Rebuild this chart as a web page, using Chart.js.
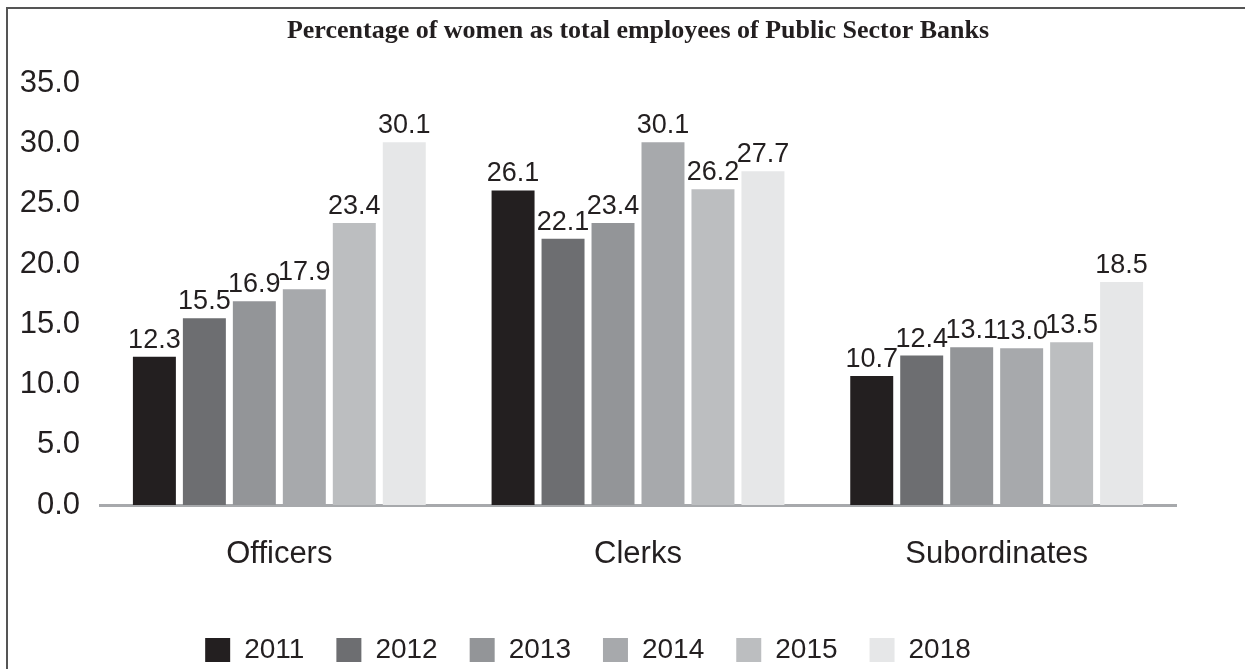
<!DOCTYPE html>
<html>
<head>
<meta charset="utf-8">
<script src="https://cdn.jsdelivr.net/npm/chart.js@4"></script>
<style>
  html, body { margin: 0; padding: 0; background: #fff; overflow: hidden; }
  #frame { position: absolute; left: 6px; top: 7px; width: 1245px; height: 669px;
           border-left: 2px solid #555; border-top: 2px solid #555; }
  #wrap { position: absolute; left: 0; top: 0; width: 1245px; height: 669px; }
</style>
</head>
<body>
<div id="frame"></div>
<div id="wrap"><canvas id="chart"></canvas></div>
<script>
// ===== DATA =====
const categories = ['Officers', 'Clerks', 'Subordinates'];
const years = ['2011', '2012', '2013', '2014', '2015', '2018'];
const y2011 = [12.3, 26.1, 10.7];
const y2012 = [15.5, 22.1, 12.4];
const y2013 = [16.9, 23.4, 13.1];
const y2014 = [17.9, 30.1, 13.0];
const y2015 = [23.4, 26.2, 13.5];
const y2018 = [30.1, 27.7, 18.5];
const series = [y2011, y2012, y2013, y2014, y2015, y2018];
const shades = ['#231f20', '#6d6e71', '#939598', '#a7a9ac', '#bcbec0', '#e6e7e8'];

const ink = '#231f20';
const sans = "'Liberation Sans', Arial, sans-serif";

// value labels above each bar
const barLabels = {
  id: 'barLabels',
  afterDatasetsDraw(chart) {
    const ctx = chart.ctx;
    ctx.save();
    ctx.font = '27px ' + sans;
    ctx.fillStyle = ink;
    ctx.textAlign = 'center';
    ctx.textBaseline = 'alphabetic';
    chart.data.datasets.forEach((ds, i) => {
      chart.getDatasetMeta(i).data.forEach((bar, j) => {
        ctx.fillText(ds.data[j].toFixed(1), bar.x, bar.y - 9);
      });
    });
    ctx.restore();
  }
};

// keep the legend strip short so it sits near the bottom edge
const legendHeight = {
  id: 'legendHeight',
  beforeLayout(chart) {
    const lg = chart.legend;
    if (!lg || lg._shortFit) return;
    const fit = lg.fit;
    lg.fit = function () {
      fit.call(this);
      this.height = 65;
    };
    lg._shortFit = true;
  }
};

new Chart(document.getElementById('chart'), {
  type: 'bar',
  data: {
    labels: categories,
    datasets: years.map((y, i) => ({
      label: y,
      data: series[i],
      backgroundColor: shades[i],
      borderWidth: 0,
      categoryPercentage: 0.836,
      barPercentage: 0.86
    }))
  },
  options: {
    responsive: true,
    maintainAspectRatio: false,
    animation: false,
    layout: { padding: { left: 0, right: 69, top: 14, bottom: 0 } },
    plugins: {
      title: {
        display: true,
        fullSize: false,
        text: 'Percentage of women as total employees of Public Sector Banks',
        color: ink,
        font: { family: "'Liberation Serif', 'Times New Roman', serif", size: 26, weight: 'bold' },
        padding: { top: 2, bottom: 36 }
      },
      legend: {
        position: 'bottom',
        labels: {
          color: ink,
          font: { family: sans, size: 28 },
          boxWidth: 25,
          boxHeight: 24,
          padding: 32
        }
      },
      tooltip: { enabled: false }
    },
    scales: {
      x: {
        grid: { display: false },
        border: { color: '#a7a9ac', width: 3 },
        ticks: { color: ink, font: { family: sans, size: 31 }, padding: 23 },
        afterFit(scale) { scale.height = 99; }
      },
      y: {
        min: 0,
        max: 35,
        grid: { display: false },
        border: { display: false },
        ticks: {
          stepSize: 5,
          color: ink,
          font: { family: sans, size: 31 },
          padding: 12,
          callback: v => v.toFixed(1)
        },
        afterFit(scale) { scale.width = 100; }
      }
    }
  },
  plugins: [barLabels, legendHeight]
});
</script>
</body>
</html>
